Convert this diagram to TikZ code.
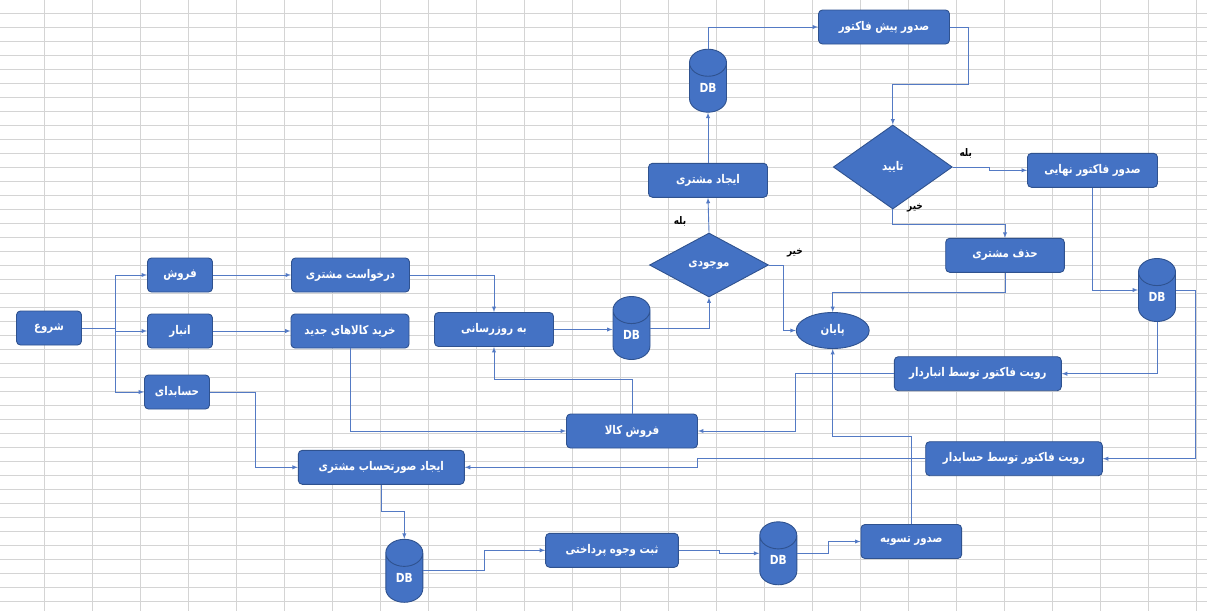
\documentclass[tikz,border=0pt]{standalone}
\usepackage{fontspec}
\newfontfamily\fa[Script=Arabic, FakeStretch=0.85]{DejaVu Sans}
\TeXXeTstate=1
\usetikzlibrary{positioning,shapes.geometric}
\definecolor{boxblue}{RGB}{68,114,196}
\definecolor{boxline}{RGB}{47,82,143}
\definecolor{linkblue}{RGB}{84,122,196}
\definecolor{cell}{RGB}{212,212,212}
\newcommand{\fatxt}[1]{\beginR #1\endR}

\begin{document}
\begin{tikzpicture}[
    x=1pt, y=-1pt,
    box/.style={rectangle, rounded corners=4pt, draw=boxline, fill=boxblue, line width=0.9pt, text=white,
        font=\fa\bfseries\fontsize{12}{14}\selectfont, minimum height=34pt, inner sep=1pt},
    ask/.style={diamond, draw=boxline, fill=boxblue, line width=0.9pt, text=white,
        font=\fa\bfseries\fontsize{12}{14}\selectfont, inner sep=0pt},
    db/.style={cylinder, shape border rotate=90, aspect=1.6, anchor=shape center, draw=boxline, fill=boxblue,
        line width=0.9pt, text=white, font=\fa\bfseries\fontsize{12.5}{14}\selectfont,
        minimum width=37pt, minimum height=63pt, inner sep=0pt},
    finish/.style={ellipse, draw=boxline, fill=boxblue, line width=0.9pt, text=white,
        font=\fa\bfseries\fontsize{12}{14}\selectfont, minimum width=73pt, minimum height=36pt, inner sep=0pt},
    link/.style={draw=linkblue, line width=0.9pt, ->, >=latex},
    yesno/.style={font=\fa\bfseries\fontsize{10.5}{12}\selectfont, text=black}
]
    \useasboundingbox (0,0) rectangle (1207,611);
    \fill[white] (0,0) rectangle (1207,611);
    % sheet grid
    \foreach \gx in {0,...,24}
        \draw[cell, line width=0.9pt] (44.3+48*\gx,0) -- ++(0,611);
    \foreach \gy in {0,...,42}
        \draw[cell, line width=0.9pt] (0,13.3+14*\gy) -- ++(1207,0);

    % left part
    \node[box, minimum width=65pt] (start) at (49,328) {\fatxt{شروع}};
    \node[box, minimum width=65pt] (sale) at (180,275) {\fatxt{فروش}};
    \node[box, minimum width=65pt] (store) at (180,331) {\fatxt{انبار}};
    \node[box, minimum width=65pt] (acct) at (177,392) {\fatxt{حسابدای}};
    \node[box, minimum width=118pt] (request) at (350.5,275) {\fatxt{درخواست مشتری}};
    \node[box, minimum width=118pt] (buy) at (350,331) {\fatxt{خرید کالاهای جدید}};
    \node[box, minimum width=119pt] (update) at (494,329.5) {\fatxt{به روزرسانی}};
    \node[db] (dbA) at (631.5,328) {DB};
    \node[box, minimum width=131pt] (goods) at (632,431) {\fatxt{فروش کالا}};

    % top part
    \node[ask, minimum width=119pt, minimum height=64pt] (stock) at (709,265) {\fatxt{موجودی}};
    \node[box, minimum width=119pt] (newcust) at (708,180.3) {\fatxt{ایجاد مشتری}};
    \node[db] (dbB) at (708,80.7) {DB};
    \node[box, minimum width=131pt] (prefact) at (884,27) {\fatxt{صدور پیش فاکتور}};
    \node[ask, minimum width=119pt, minimum height=84pt] (approve) at (892.8,167) {\fatxt{تایید}};
    \node[box, minimum width=130pt] (final) at (1092.5,170.3) {\fatxt{صدور فاکتور نهایی}};
    \node[box, minimum width=118.6pt] (delcust) at (1005,255.3) {\fatxt{حذف مشتری}};
    \node[finish] (end) at (832.7,330.5) {\fatxt{پایان}};
    \node[db] (dbC) at (1157,290) {DB};
    \node[box, minimum width=167pt] (keeper) at (977.8,373.7) {\fatxt{رویت فاکتور توسط انباردار}};
    \node[box, minimum width=176.6pt] (clerk) at (1014,458.7) {\fatxt{رویت فاکتور توسط حسابدار}};

    % bottom part
    \node[box, minimum width=166pt] (bill) at (381.3,467.3) {\fatxt{ایجاد صورتحساب مشتری}};
    \node[db] (dbD) at (404.3,570.8) {DB};
    \node[box, minimum width=132.7pt] (pay) at (612,550.3) {\fatxt{ثبت وجوه پرداختی}};
    \node[db] (dbE) at (778.3,553.3) {DB};
    \node[box, minimum width=100.7pt] (settle) at (911.3,541.5) {\fatxt{صدور تسویه}};

    % answers
    \node[yesno] (yesA) at (680,221.7) {\fatxt{بله}};
    \node[yesno] (noA) at (795,253.3) {\fatxt{خیر}};
    \node[yesno] (yesB) at (965.7,153.3) {\fatxt{بله}};
    \node[yesno] (noB) at (915,208.3) {\fatxt{خیر}};

    % links
    \draw[link] (start.east) -- ++(33,0) |- (sale.west);
    \draw[link] (start.east) -- ++(33,0) |- (store.west);
    \draw[link] (start.east) -- ++(33,0) |- (acct.west);
    \draw[link] (sale.east) -- (request.west);
    \draw[link] (store.east) -- (buy.west);
    \draw[link] (request.east) -| (update.north);
    \draw[link] (update.east) -- (update.east -| dbA.west);
    \draw[link] (dbA.shape center -| dbA.east) -| (stock.south);
    \draw[link] (stock.north) -- (newcust.south);
    \draw[link] (newcust.north) -- (dbB.south);
    \draw[link] (dbB.north) |- (prefact.west);
    \draw[link] (prefact.east) -- ++(18.5,0) -- ++(0,57.3) -| (approve.north);
    \draw[link] (approve.east) -- ++(37,0) |- (final.west);
    \draw[link] (approve.south) -- ++(0,15) -| (delcust.north);
    \draw[link] (stock.east) -- ++(14,0) |- (end.west);
    \draw[link] (delcust.south) -- ++(0,20) -| (end.north);
    \draw[link] (final.south) |- (dbC.shape center -| dbC.west);
    \draw[link] (dbC.south) |- (keeper.east);
    \draw[link] (dbC.shape center -| dbC.east) -- ++(19,0) |- (clerk.east);
    \draw[link] (keeper.west) -- ++(-98.6,0) |- (goods.east);
    \draw[link] (goods.north) -- ++(0,-34.3) -| (update.south);
    \draw[link] (buy.south) |- (goods.west);
    \draw[link] (acct.east) -- ++(45,0) |- (bill.west);
    \draw[link] (clerk.west) -- ++(-228,0) |- (bill.east);
    \draw[link] (bill.south) -- ++(0,27) -| (dbD.north);
    \draw[link] (dbD.shape center -| dbD.east) -- ++(61,0) |- (pay.west);
    \draw[link] (pay.east) -- ++(41,0) |- (dbE.shape center -| dbE.west);
    \draw[link] (dbE.shape center -| dbE.east) -- ++(31.6,0) |- (settle.west);
    \draw[link] (settle.north) -- ++(0,-88) -| (end.south);
\end{tikzpicture}
\end{document}
